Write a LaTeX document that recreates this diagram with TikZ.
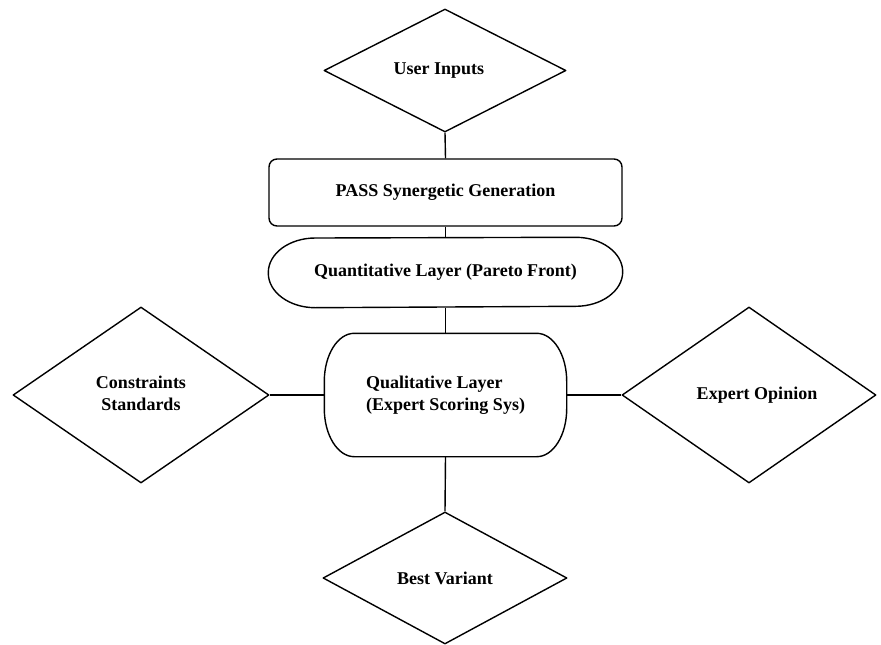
\documentclass[tikz,border=0pt]{standalone}
\usepackage{fontspec}
\setmainfont{Liberation Serif}
\usetikzlibrary{shapes.geometric}
\begin{document}
\begin{tikzpicture}[x=1pt,y=-1pt,line width=1.4pt,line join=round,
  lbl/.style={font=\fontsize{18}{22}\selectfont\bfseries},
  dia/.style={diamond,draw,lbl,inner sep=0pt,aspect=1,align=center},
  rbox/.style={rectangle,draw,rounded corners=8pt,lbl,inner sep=0pt},
  plain/.style={rectangle,lbl,inner sep=0pt}]
\useasboundingbox (0,0) rectangle (881,645);
\node[dia,minimum width=242pt,minimum height=123pt] (ui) at (445,70.5) {\hspace*{-12pt}User Inputs};
\node[rbox,minimum width=353pt,minimum height=67pt] (pass) at (445.5,192.5) {PASS Synergetic Generation};
\node[plain,minimum width=353pt,minimum height=69pt] (quant) at (445.5,272.5) {Quantitative Layer (Pareto Front)};
\node[plain,minimum width=241pt,minimum height=122pt,align=left] (qual) at (445.5,395) {Qualitative Layer\\(Expert Scoring Sys)};
\node[dia,minimum width=256pt,minimum height=176pt] (cons) at (141,395) {\raisebox{5pt}{\begin{tabular}{@{}c@{}}Constraints\\Standards\end{tabular}}};
\node[dia,minimum width=254pt,minimum height=176pt] (exp) at (749,395) {\hspace*{16pt}Expert Opinion};
\node[dia,minimum width=244pt,minimum height=132pt] (best) at (445,578) {Best Variant};
% outlines of the rounded layers
\draw (quant.west)
  arc[start angle=180,end angle=90,x radius=47pt,y radius=34.5pt]
  -- ([xshift=-47pt]quant.north east)
  arc[start angle=90,end angle=-90,x radius=47pt,y radius=34.5pt]
  -- ([xshift=47pt]quant.south west)
  arc[start angle=270,end angle=180,x radius=47pt,y radius=34.5pt] -- cycle;
\draw ([xshift=30pt]qual.north west) -- ([xshift=-30pt]qual.north east)
  arc[start angle=90,end angle=0,x radius=30pt,y radius=48pt]
  -- ([yshift=48pt]qual.south east)
  arc[start angle=0,end angle=-90,x radius=30pt,y radius=48pt]
  -- ([xshift=30pt]qual.south west)
  arc[start angle=270,end angle=180,x radius=30pt,y radius=48pt]
  -- ([yshift=-48pt]qual.north west)
  arc[start angle=180,end angle=90,x radius=30pt,y radius=48pt] -- cycle;
% connectors
\draw (ui.south) -- (pass.north);
\draw (pass.south) -- (quant.north);
\draw (quant.south) -- (qual.north);
\draw (qual.south) -- (best.north);
\draw (cons.east) -- (qual.west);
\draw (qual.east) -- (exp.west);
\end{tikzpicture}
\end{document}
